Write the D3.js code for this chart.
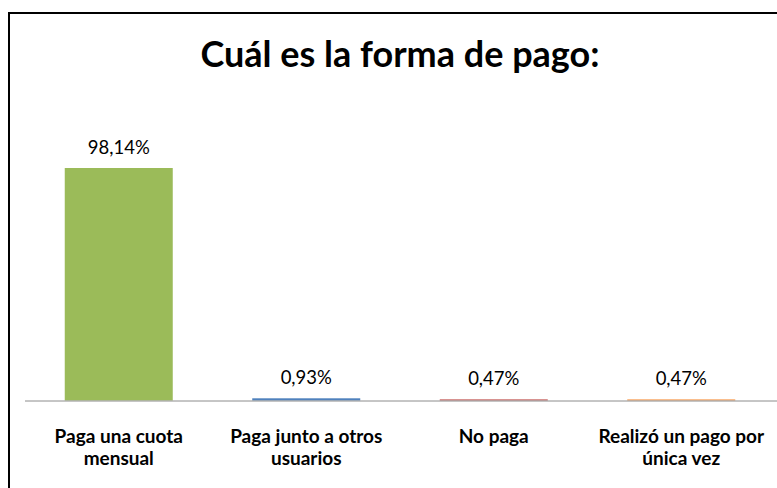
<!DOCTYPE html>
<html>
<head>
<meta charset="utf-8">
<script src="https://cdn.jsdelivr.net/npm/d3@7"></script>
<style>
  html, body { margin: 0; padding: 0; background: #fff; }
  svg { display: block; }
</style>
</head>
<body>
<div id="chart"></div>
<script>
// Payment method shares (percent)
const categories = [
  ["Paga una cuota", "mensual"],
  ["Paga junto a otros", "usuarios"],
  ["No paga"],
  ["Realizó un pago por", "única vez"]
];
const values = [98.14, 0.93, 0.47, 0.47];
const valueLabels = ["98,14%", "0,93%", "0,47%", "0,47%"];
const colors = ["#9BBB59", "#4F81BD", "#C0504D", "#F79646"];
const title = "Cuál es la forma de pago:";

const W = 777, H = 488;
const font = "Lato, 'Open Sans', sans-serif";

const svg = d3.select("#chart").append("svg")
  .attr("width", W).attr("height", H);

// Chart area frame
svg.append("rect")
  .attr("x", 9).attr("y", 13)
  .attr("width", W + 20).attr("height", H + 20)
  .attr("fill", "#fff")
  .attr("stroke", "#000").attr("stroke-width", 2);

const x = d3.scaleBand()
  .domain(d3.range(values.length))
  .range([25, 775])
  .paddingInner(0.424)
  .paddingOuter(0.212);

const baseY = 400.5;
const y = d3.scaleLinear()
  .domain([0, 100])
  .range([baseY, baseY - 236.9]);

// Title
svg.append("text")
  .attr("x", 400).attr("y", 67)
  .attr("text-anchor", "middle")
  .attr("font-family", font)
  .attr("font-weight", "bold")
  .attr("font-size", 36)
  .attr("fill", "#000")
  .text(title);

// Bars
svg.selectAll("rect.bar")
  .data(values)
  .join("rect")
  .attr("class", "bar")
  .attr("x", (d, i) => x(i))
  .attr("width", x.bandwidth())
  .attr("y", d => y(d))
  .attr("height", d => baseY - y(d))
  .attr("fill", (d, i) => colors[i]);

// Category axis line
svg.append("line")
  .attr("x1", 25).attr("x2", 777)
  .attr("y1", baseY + 0.5).attr("y2", baseY + 0.5)
  .attr("stroke", "#8c8c8c").attr("stroke-width", 1);

// Value labels
svg.selectAll("text.val")
  .data(values)
  .join("text")
  .attr("class", "val")
  .attr("x", (d, i) => x(i) + x.bandwidth() / 2)
  .attr("y", d => y(d) - 14)
  .attr("text-anchor", "middle")
  .attr("font-family", font)
  .attr("font-size", 18.5)
  .attr("fill", "#000")
  .text((d, i) => valueLabels[i]);

// Category labels
const cat = svg.selectAll("text.cat")
  .data(categories)
  .join("text")
  .attr("class", "cat")
  .attr("text-anchor", "middle")
  .attr("font-family", font)
  .attr("font-weight", "bold")
  .attr("font-size", 19)
  .attr("fill", "#000");

cat.selectAll("tspan")
  .data((d, i) => d.map(line => ({ line, i })))
  .join("tspan")
  .attr("x", d => x(d.i) + x.bandwidth() / 2)
  .attr("y", (d, j) => 443 + j * 22)
  .text(d => d.line);
</script>
</body>
</html>
